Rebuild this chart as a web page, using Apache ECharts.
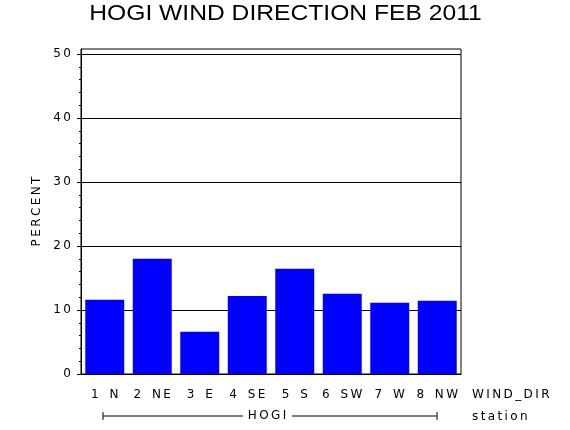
<!DOCTYPE html>
<html>
<head>
<meta charset="utf-8">
<script src="https://cdn.jsdelivr.net/npm/echarts@6/dist/echarts.min.js"></script>
<style>
html,body{margin:0;padding:0;background:#fff;}
#chart{width:570px;height:430px;}
</style>
</head>
<body>
<div id="chart"></div>
<script>
var titleText = 'HOGI WIND DIRECTION FEB 2011';
var categories = ['1 N', '2 NE', '3 E', '4 SE', '5 S', '6 SW', '7 W', '8 NW'];
var percentValues = [11.6, 18.0, 6.6, 12.2, 16.45, 12.55, 11.15, 11.45];
var yTickLabels = [0, 10, 20, 30, 40, 50];
var yMinorTicks = [0,2,4,6,8,10,12,14,16,18,20,22,24,26,28,30,32,34,36,38,40,42,44,46,48,50];
var yAxisName = 'PERCENT';
var xAxisName = 'WIND_DIR';
var groupName = 'HOGI';
var groupAxisName = 'station';

function sp(s) {
  return String(s).split('').map(function (c) { return c === ' ' ? '\u2002' : c; }).join('\u2009');
}

var FONT = 'DejaVu Sans';
var chart = echarts.init(document.getElementById('chart'), null, {renderer: 'canvas'});
chart.setOption({
  animation: false,
  backgroundColor: '#ffffff',
  grid: {
    left: 81, right: 109, top: 49, bottom: 56,
    show: true, borderColor: '#000', borderWidth: 1, backgroundColor: 'transparent'
  },
  xAxis: {
    type: 'category',
    data: categories,
    axisLine: {show: true, lineStyle: {color: '#000', width: 1}},
    axisTick: {show: false},
    axisLabel: {
      color: '#000', fontFamily: FONT, fontSize: 12, margin: 15, interval: 0,
      formatter: function (v) { return sp(v); }
    },
    splitLine: {show: false}
  },
  yAxis: [{
    type: 'value',
    min: 0, max: 50.8, interval: 10,
    position: 'left',
    name: sp(yAxisName),
    nameLocation: 'middle',
    nameGap: 36,
    nameRotate: 90,
    nameTextStyle: {color: '#000', fontFamily: FONT, fontSize: 12},
    axisLine: {show: true, lineStyle: {color: '#000', width: 1}},
    axisTick: {show: true, customValues: yTickLabels, length: 4, lineStyle: {color: '#000'}},
    axisLabel: {
      show: true, customValues: yTickLabels, color: '#000', fontFamily: FONT, fontSize: 12, margin: 10,
      formatter: function (v) { return sp(v); }
    },
    splitLine: {show: true, lineStyle: {color: '#000', width: 1}}
  }, {
    type: 'value',
    min: 0, max: 50.8, interval: 10,
    position: 'left',
    offset: 0,
    axisLine: {show: false},
    axisTick: {show: true, customValues: yMinorTicks, length: 2, lineStyle: {color: '#000'}},
    axisLabel: {show: false},
    splitLine: {show: false}
  }],
  series: [{
    type: 'bar',
    data: percentValues,
    yAxisIndex: 0,
    barCategoryGap: '18%',
    itemStyle: {color: '#0000ff'}
  }],
  graphic: [
    {type: 'text', x: 285.5, y: 14, scaleX: 1.12, originX: 0, originY: 0,
     style: {text: titleText, fill: '#000', font: '22px "Liberation Sans"', textAlign: 'center', textVerticalAlign: 'middle'}},
    {type: 'text', left: 472, top: 389, style: {text: sp(xAxisName), fill: '#000', font: '12px "DejaVu Sans"'}},
    {type: 'text', left: 472, top: 411, style: {text: sp(groupAxisName), fill: '#000', font: '12px "DejaVu Sans"'}},
    {type: 'line', shape: {x1: 103, y1: 416, x2: 243, y2: 416}, style: {stroke: '#000', lineWidth: 1}},
    {type: 'line', shape: {x1: 292, y1: 416, x2: 437, y2: 416}, style: {stroke: '#000', lineWidth: 1}},
    {type: 'line', shape: {x1: 103, y1: 412, x2: 103, y2: 420}, style: {stroke: '#000', lineWidth: 1}},
    {type: 'line', shape: {x1: 437, y1: 412, x2: 437, y2: 420}, style: {stroke: '#000', lineWidth: 1}},
    {type: 'text', x: 267, y: 416, style: {text: sp(groupName), fill: '#000', font: '12px "DejaVu Sans"', textAlign: 'center', textVerticalAlign: 'middle'}}
  ]
});
</script>
</body>
</html>
